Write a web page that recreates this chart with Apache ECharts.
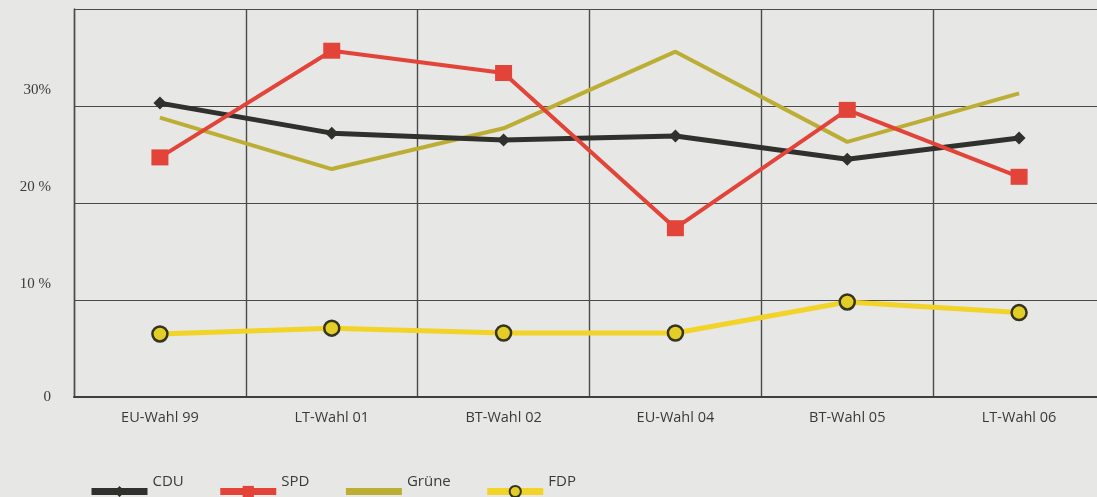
<!DOCTYPE html>
<html>
<head>
<meta charset="utf-8">
<script src="https://cdn.jsdelivr.net/npm/echarts@6/dist/echarts.min.js"></script>
<style>
  html, body { margin: 0; padding: 0; background: #e7e7e5; overflow: hidden; }
  /* the plot runs a few pixels past the right edge of the page */
  #chart { width: 1105px; height: 497px; }
</style>
</head>
<body>
<div id="chart"></div>
<script>
// Wahlergebnisse in Prozent
const elections = ['EU-Wahl 99', 'LT-Wahl 01', 'BT-Wahl 02', 'EU-Wahl 04', 'BT-Wahl 05', 'LT-Wahl 06'];
const cdu   = [30.3, 27.2, 26.5, 26.9, 24.5, 26.7];
const spd   = [24.7, 35.7, 33.4, 17.4, 29.6, 22.7];
const gruene = [28.8, 23.5, 27.7, 35.6, 26.3, 31.3];
const fdp   = [6.5, 7.1, 6.6, 6.6, 9.8, 8.7];
const yTickLabels = { 0: '0', 10: '10 %', 20: '20 %', 30: '30%', 40: '' };

const chart = echarts.init(document.getElementById('chart'));
const gridColor = '#4a4a48';
const textColor = '#3a3a38';

chart.setOption({
  backgroundColor: '#e7e7e5',
  animation: false,
  grid: { left: 74, right: 0, top: 9, bottom: 100, containLabel: false },
  legend: {
    left: 83,
    top: 469,
    itemWidth: 56,
    itemHeight: 14,
    itemGap: 33,
    formatter: function (name) { return '{t|' + name + '}'; },
    textStyle: {
      rich: {
        t: {
          fontFamily: 'Open Sans, sans-serif',
          fontSize: 15,
          color: textColor,
          padding: [0, 0, 20, 0]
        }
      }
    },
    data: [
      { name: 'CDU', lineStyle: { width: 7 } },
      { name: 'SPD', lineStyle: { width: 7 } },
      { name: 'Grüne', lineStyle: { width: 7 }, itemStyle: { opacity: 0 } },
      { name: 'FDP', lineStyle: { width: 7 } }
    ]
  },
  xAxis: {
    type: 'category',
    data: elections,
    boundaryGap: true,
    axisLine: { show: true, lineStyle: { color: '#3e3e3c', width: 2 } },
    axisTick: { show: false },
    splitLine: { show: true, lineStyle: { color: gridColor, width: 1.4 } },
    axisLabel: {
      margin: 13,
      fontFamily: 'Open Sans, sans-serif',
      fontSize: 14.5,
      color: textColor
    }
  },
  yAxis: {
    type: 'value',
    min: 0,
    max: 40,
    interval: 10,
    axisLine: { show: true, lineStyle: { color: gridColor, width: 1.4 } },
    axisTick: { show: false },
    splitLine: { show: true, lineStyle: { color: gridColor, width: 1.2 } },
    axisLabel: {
      margin: 23,
      color: textColor,
      formatter: function (v) {
        const t = yTickLabels[v];
        if (!t) return '';
        return v === 0 ? '{base|' + t + '}' : '{up|' + t + '}';
      },
      rich: {
        base: { fontFamily: 'Liberation Serif, serif', fontSize: 15, color: textColor },
        up: { fontFamily: 'Liberation Serif, serif', fontSize: 15, color: textColor, padding: [0, 0, 32, 0] }
      }
    }
  },
  series: [
    {
      name: 'CDU',
      type: 'line',
      data: cdu,
      z: 4,
      symbol: 'diamond',
      symbolSize: 13,
      lineStyle: { color: '#30302c', width: 5 },
      itemStyle: { color: '#30302c' }
    },
    {
      name: 'SPD',
      type: 'line',
      data: spd,
      z: 5,
      symbol: 'rect',
      symbolSize: [17, 16],
      lineStyle: { color: '#e2443a', width: 4 },
      itemStyle: { color: '#e2443a' }
    },
    {
      name: 'Grüne',
      type: 'line',
      data: gruene,
      z: 3,
      symbol: 'none',
      lineStyle: { color: '#bcae35', width: 4 },
      itemStyle: { color: '#bcae35' }
    },
    {
      name: 'FDP',
      type: 'line',
      data: fdp,
      z: 3,
      symbol: 'circle',
      symbolSize: 15,
      lineStyle: { color: '#f2d327', width: 5 },
      itemStyle: { color: '#e3cd27', borderColor: '#35341f', borderWidth: 2.5 }
    }
  ]
});
</script>
</body>
</html>
